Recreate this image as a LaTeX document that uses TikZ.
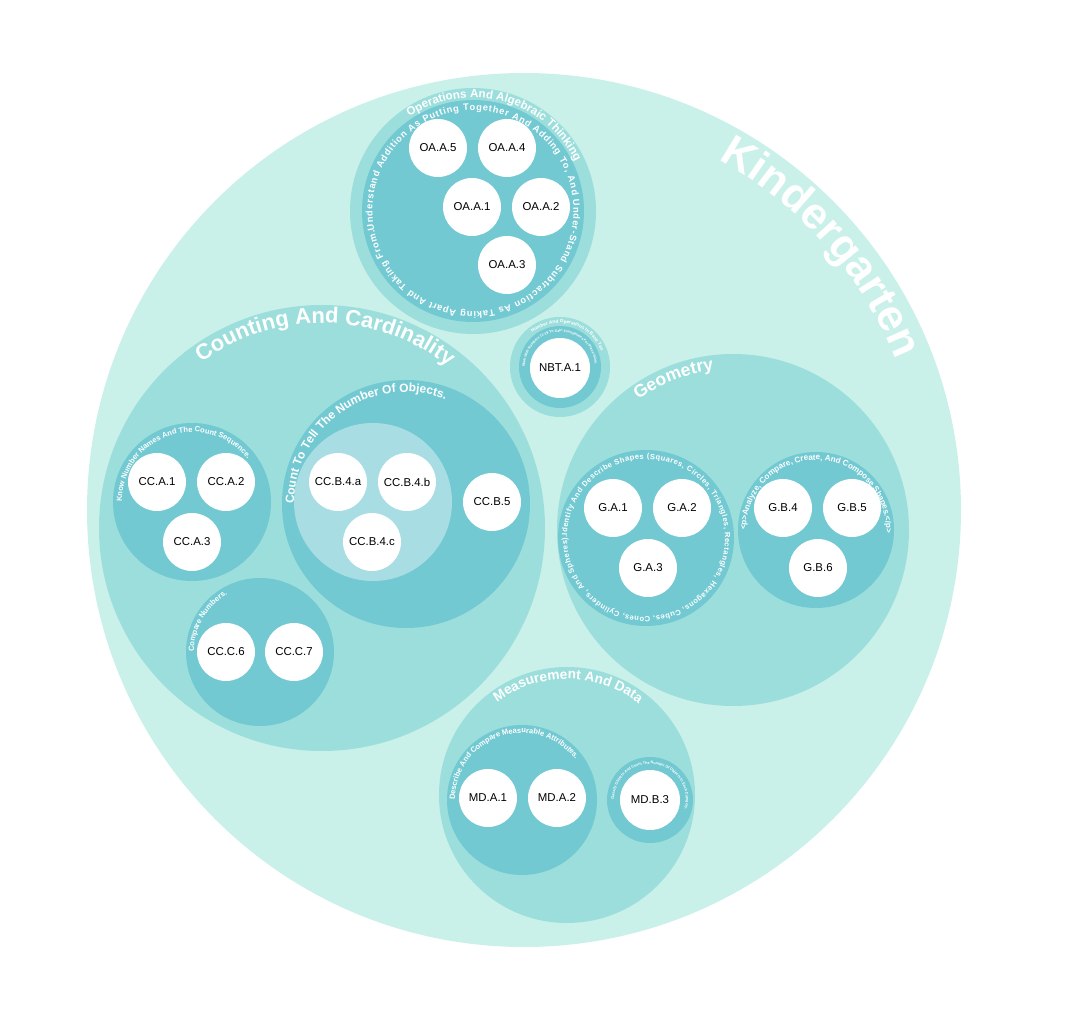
\documentclass[tikz,border=0pt]{standalone}
\usepackage{fontspec}
\setmainfont{Liberation Sans}
\usetikzlibrary{decorations.text}
\definecolor{kgfill}{HTML}{CAF0EA}
\definecolor{domfill}{HTML}{9BDEDB}
\definecolor{clufill}{HTML}{72C9D2}
\definecolor{subfill}{HTML}{A8DDE3}
\newcommand\lbl[1]{\fontsize{#1}{#1}\selectfont\bfseries\color{white}}

\begin{document}
\begin{tikzpicture}[x=0.02cm, y=0.02cm]
	\tikzset{leaf/.style={circle, fill=white, minimum size=1.16cm, inner sep=0pt, font=\fontsize{6.5}{7}\selectfont},
		ring/.style={decorate, decoration={text along path, text align=left}}}
	\useasboundingbox (0,0) rectangle (1069,-1023);
	\coordinate (kg) at (524,-510);
	\coordinate (oa) at (473,-211);
	\coordinate (nbt) at (560,-367);
	\coordinate (cc) at (322,-528);
	\coordinate (cca) at (192,-502);
	\coordinate (ccb) at (406,-504);
	\coordinate (ccb4) at (373,-502);
	\coordinate (ccc) at (260,-652);
	\coordinate (geo) at (733,-530);
	\coordinate (gea) at (646,-538);
	\coordinate (geb) at (816,-530);
	\coordinate (md) at (567,-795);
	\coordinate (mda) at (522,-800);
	\coordinate (mdb) at (650,-800);
	\fill[kgfill] (kg) circle[radius=437];
	\fill[domfill] (oa) circle[radius=123] (nbt) circle[radius=50] (cc) circle[radius=223] (geo) circle[radius=176] (md) circle[radius=128];
	\fill[clufill] (oa) circle[radius=111] (nbt) circle[radius=41] (cca) circle[radius=79] (ccb) circle[radius=124] (ccc) circle[radius=74]
		(gea) circle[radius=88] (geb) circle[radius=78] (mda) circle[radius=75] (mdb) circle[radius=43];
	\fill[subfill] (ccb4) circle[radius=79];
	\node[leaf] (oaa5) at (438,-148) {OA.A.5};
	\node[leaf] (oaa4) at (507,-148) {OA.A.4};
	\node[leaf] (oaa1) at (472,-207) {OA.A.1};
	\node[leaf] (oaa2) at (541,-207) {OA.A.2};
	\node[leaf] (oaa3) at (507,-265) {OA.A.3};
	\node[leaf, minimum size=1.2cm] (nbta1) at (560,-368) {NBT.A.1};
	\node[leaf] (cca1) at (157,-482) {CC.A.1};
	\node[leaf] (cca2) at (226,-482) {CC.A.2};
	\node[leaf] (cca3) at (192,-542) {CC.A.3};
	\node[leaf] (ccb4a) at (338,-482) {CC.B.4.a};
	\node[leaf] (ccb4b) at (407,-482) {CC.B.4.b};
	\node[leaf] (ccb4c) at (372,-542) {CC.B.4.c};
	\node[leaf] (ccb5) at (492,-502) {CC.B.5};
	\node[leaf] (ccc6) at (226,-652) {CC.C.6};
	\node[leaf] (ccc7) at (294,-652) {CC.C.7};
	\node[leaf] (ga1) at (613,-508) {G.A.1};
	\node[leaf] (ga2) at (682,-508) {G.A.2};
	\node[leaf] (ga3) at (648,-568) {G.A.3};
	\node[leaf] (gb4) at (783,-508) {G.B.4};
	\node[leaf] (gb5) at (852,-508) {G.B.5};
	\node[leaf] (gb6) at (818,-568) {G.B.6};
	\node[leaf] (mda1) at (488,-798) {MD.A.1};
	\node[leaf] (mda2) at (557,-798) {MD.A.2};
	\node[leaf, minimum size=1.2cm] (mdb3) at (650,-800) {MD.B.3};
	\path[ring, decoration={text={|\lbl{25}|Kindergarten}}] (kg) ++(61:401) arc[start angle=61, end angle=-60, radius=401];
	\path[ring, decoration={text={|\lbl{12.5}|Counting And Cardinality}}] (cc) ++(126:205) arc[start angle=126, end angle=-60, radius=205];
	\path[ring, decoration={text={|\lbl{6.6}|Operations And Algebraic Thinking}}] (oa) ++(124:113.5) arc[start angle=124, end angle=-60, radius=113.5];
	\path[ring, decoration={text align=fit to path, text={|\lbl{5.3}|Understand Addition As Putting Together And Adding To, And Under-Stand Subtraction As Taking Apart And Taking From.}}] (oa) ++(191:100.5) arc[start angle=191, end angle=-169, radius=100.5];
	\path[ring, decoration={text={|\lbl{2.7}|Number And Operations In Base Ten}}] (nbt) ++(129:44) arc[start angle=129, end angle=-90, radius=44];
	\path[ring, decoration={text={|\lbl{2}|Work With Numbers 11-19 To Gain Foundations For Place Value.}}] (nbt) ++(180:35) arc[start angle=180, end angle=-120, radius=35];
	\path[ring, decoration={text={|\lbl{10}|Geometry}}] (geo) ++(126:161) arc[start angle=126, end angle=-60, radius=161];
	\path[ring, decoration={text align=fit to path, text={|\lbl{4.3}|Identify And Describe Shapes (Squares, Circles, Triangles, Rectangles, Hexagons, Cubes, Cones, Cylinders, And Spheres).}}] (gea) ++(178:79) arc[start angle=178, end angle=-182, radius=79];
	\path[ring, decoration={text={|\lbl{4.6}|<p>Analyze, Compare, Create, And Compose Shapes.</p>}}] (geb) ++(180:70) arc[start angle=180, end angle=-120, radius=70];
	\path[ring, decoration={text={|\lbl{7.8}|Measurement And Data}}] (md) ++(127:116) arc[start angle=127, end angle=-60, radius=116];
	\path[ring, decoration={text={|\lbl{4.3}|Describe And Compare Measurable Attributes.}}] (mda) ++(180:67) arc[start angle=180, end angle=-120, radius=67];
	\path[ring, decoration={text={|\lbl{2.1}|Classify Objects And Count The Number Of Objects In Each Category.}}] (mdb) ++(180:36) arc[start angle=180, end angle=-150, radius=36];
	\path[ring, decoration={text={|\lbl{4.3}|Know Number Names And The Count Sequence.}}] (cca) ++(180:70) arc[start angle=180, end angle=-120, radius=70];
	\path[ring, decoration={text={|\lbl{6.8}|Count To Tell The Number Of Objects.}}] (ccb) ++(180:112) arc[start angle=180, end angle=-120, radius=112];
	\path[ring, decoration={text={|\lbl{4.3}|Compare Numbers.}}] (ccc) ++(180:66) arc[start angle=180, end angle=-120, radius=66];
\end{tikzpicture}
\end{document}
